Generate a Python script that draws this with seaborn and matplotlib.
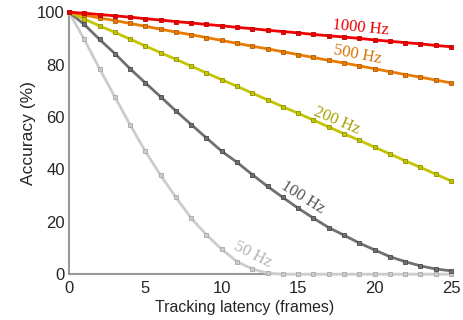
import matplotlib
matplotlib.use("Agg")
import matplotlib.pyplot as plt
import seaborn as sns
import pandas as pd

frames = list(range(26))
acc_1000 = [100, 99.6, 99.1, 98.6, 98.1, 97.5, 97.0, 96.4, 95.9, 95.3, 94.8, 94.2, 93.7,
            93.1, 92.6, 92.1, 91.5, 91.0, 90.5, 90.0, 89.4, 88.9, 88.4, 87.9, 87.3, 86.8]
acc_500 = [100, 98.9, 97.8, 96.8, 95.7, 94.6, 93.5, 92.4, 91.4, 90.3, 89.2, 88.1, 87.0,
           86.0, 84.9, 83.8, 82.7, 81.6, 80.6, 79.5, 78.4, 77.3, 76.2, 75.2, 74.1, 73.0]
acc_200 = [100, 97.4, 94.8, 92.3, 89.7, 87.1, 84.5, 82.0, 79.4, 76.8, 74.2, 71.7, 69.1,
           66.5, 63.9, 61.4, 58.8, 56.2, 53.6, 51.1, 48.5, 45.9, 43.3, 40.8, 38.2, 35.6]
acc_100 = [100, 95.3, 89.6, 84.2, 78.4, 73.0, 67.7, 62.3, 57.1, 52.0, 46.9, 42.7, 38.0,
           33.5, 29.3, 25.2, 21.4, 17.8, 14.9, 11.9, 9.3, 6.7, 4.8, 3.2, 2.0, 1.3]
acc_50 = [100, 89.6, 78.4, 67.7, 57.0, 46.9, 37.7, 29.3, 21.4, 15.0, 9.5, 4.8, 2.0,
          0.4, 0, 0, 0, 0, 0, 0, 0, 0, 0, 0, 0, 0]

series_names = ["50 Hz", "100 Hz", "200 Hz", "500 Hz", "1000 Hz"]
series_vals = [acc_50, acc_100, acc_200, acc_500, acc_1000]
line_colors = ["#cccccc", "#707070", "#c4c400", "#e87c00", "#f00000"]
edge_colors = ["#a8a8a8", "#4a4a4a", "#909000", "#b05a00", "#b80000"]
text_colors = ["#b4b4b4", "#555555", "#a4a400", "#d87200", "#e80000"]

# label positions (data coords) and rotations
label_xy = [(12.0, 7.6), (15.3, 29.3), (17.5, 58.4), (18.9, 83.6), (19.1, 94.2)]
label_rot = [-27, -32, -23, -11, -5.5]

sns.set_style("white")
plt.rcParams['font.family'] = ['Liberation Sans', 'DejaVu Sans']

fig = plt.figure(figsize=(4.63, 3.2), dpi=100)
ax = fig.add_axes([0.149, 0.143, 0.825, 0.819])

for name, vals, lc, ec in zip(series_names, series_vals, line_colors, edge_colors):
    df = pd.DataFrame({"frame": frames, "acc": vals})
    sns.lineplot(data=df, x="frame", y="acc", color=lc, linewidth=2, marker="s",
                 markersize=2.8, markeredgecolor=ec, markeredgewidth=0.6,
                 ax=ax, clip_on=False, zorder=3)

for name, (lx, ly), rot, tc in zip(series_names, label_xy, label_rot, text_colors):
    ax.text(lx, ly, name, color=tc, rotation=rot, rotation_mode="anchor",
            ha="center", va="center", fontsize=12,
            family=["Liberation Serif", "DejaVu Serif"])

ax.set_xlim(0, 25)
ax.set_ylim(0, 100)
ax.set_xticks([0, 5, 10, 15, 20, 25])
ax.set_yticks([0, 20, 40, 60, 80, 100])
ax.set_xlabel("Tracking latency (frames)", fontsize=11.4)
ax.set_ylabel("Accuracy (%)", fontsize=12.5)
ax.xaxis.set_label_coords((245 - 69) / 382, -0.098)
ax.yaxis.set_label_coords(-0.086, (274.3 - 133) / 262.3)
ax.tick_params(axis="x", direction="in", length=3, color="#999999", labelsize=12, pad=5)
ax.tick_params(axis="y", direction="in", length=3, color="#999999", labelsize=12, pad=3)
for s in ["top", "right"]:
    ax.spines[s].set_visible(False)
for s in ["left", "bottom"]:
    ax.spines[s].set_color("#999999")
    ax.spines[s].set_linewidth(1.5)

fig.savefig("out.png", dpi=100)
